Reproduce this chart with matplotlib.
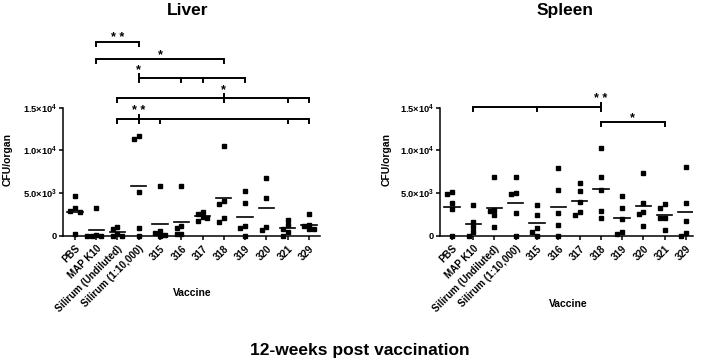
import numpy as np
import matplotlib.pyplot as plt

plt.rcParams['font.family'] = ['Liberation Sans', 'DejaVu Sans']
plt.rcParams['font.weight'] = 'bold'
plt.rcParams['mathtext.fontset'] = 'custom'
plt.rcParams['mathtext.rm'] = 'Liberation Sans:bold'
plt.rcParams['mathtext.it'] = 'Liberation Sans:bold'
plt.rcParams['mathtext.bf'] = 'Liberation Sans:bold'

# data
vaccines = ['PBS', 'MAP K10', 'Silirum (Undiluted)', 'Silirum (1:10,000)',
            '315', '316', '317', '318', '319', '320', '321', '329']

liver = [
    [4600, 2950, 2800, 3300, 200],
    [3300, 0, 0, 0, 50],
    [1000, 800, 200, 0, 0],
    [11700, 11300, 5100, 900, 0],
    [5800, 550, 300, 100, 0],
    [5800, 1130, 940, 200, 200],
    [2750, 2500, 2150, 1760, 2100],
    [10470, 4060, 3710, 1640, 2030],
    [5230, 3830, 1130, 940, 0],
    [6720, 4410, 630, 1050],
    [1870, 1220, 780, 430, 0],
    [2500, 1300, 1100, 750, 750],
]

spleen = [
    [5150, 4880, 3870, 3090, 0],
    [3600, 1640, 1050, 400, 0],
    [6840, 2930, 3010, 2420, 980],
    [6840, 4880, 5030, 2620, 0],
    [3600, 2420, 940, 470, 0],
    [7890, 5310, 2620, 1220, 0],
    [6130, 5200, 3950, 2810, 2390],
    [10230, 6870, 5350, 2930, 2070],
    [4650, 3280, 1920, 200, 400],
    [7300, 3830, 2740, 2580, 1170],
    [3710, 3210, 2110, 2110, 700],
    [8100, 3790, 1760, 300, 0],
]

y_ticks = [0, 5000, 10000, 15000]
y_tick_labels = ['0', '5.0×10$^{3}$', '1.0×10$^{4}$', '1.5×10$^{4}$']

# (groups, star group or None for middle, height, stars)
liver_brackets = [
    ([1, 3], None, 22700, '* *'),
    ([1, 7], None, 20700, '*'),
    ([3, 5, 6, 8], 3, 18500, '*'),
    ([2, 7, 10, 11], 7, 16100, '*'),
    ([2, 3, 4, 10, 11], 3, 13700, '* *'),
]
spleen_brackets = [
    ([1, 4, 7], 7, 15100, '* *'),
    ([7, 10], None, 13300, '*'),
]


def spread(vals, step=0.22, near=520):
    # simple column scatter: points close in value get pushed sideways
    order = np.argsort(vals)[::-1]
    offs = np.zeros(len(vals))
    placed = []
    slots = [0, -1, 1, -2, 2, -3, 3]
    for i in order:
        used = [o for v, o in placed if abs(v - vals[i]) < near]
        for s in slots:
            if s * step not in used:
                offs[i] = s * step
                break
        placed.append((vals[i], offs[i]))
    return offs


def draw_panel(ax, groups, brackets, xlim):
    for i, vals in enumerate(groups):
        vals = np.array(vals, dtype=float)
        offs = spread(vals)
        ax.plot(i + offs, vals, 's', color='black', ms=3.3, clip_on=False, zorder=3)
        m = vals.mean()
        ax.plot([i - 0.36, i + 0.36], [m, m], color='black', lw=1.2, zorder=3)

    for idx, star, y, txt in brackets:
        ax.plot([idx[0], idx[-1]], [y, y], color='black', lw=1.4, clip_on=False,
                solid_capstyle='butt')
        for g in idx:
            top = y + 450 if g == star else y
            ax.plot([g, g], [y - 450, top], color='black', lw=1.4, clip_on=False)
        sx = (idx[0] + idx[-1]) / 2 if star is None else star
        sy = y + 450 if star is not None else y
        ax.annotate(txt, (sx, sy), xytext=(0, 0.8), textcoords='offset points',
                    ha='center', va='baseline', fontsize=9, fontweight='bold',
                    annotation_clip=False)

    ax.set_xlim(*xlim)
    ax.set_ylim(0, 24000)
    ax.spines['top'].set_visible(False)
    ax.spines['right'].set_visible(False)
    ax.spines['left'].set_bounds(0, 15000)
    for s in ['left', 'bottom']:
        ax.spines[s].set_linewidth(1.1)
    ax.set_yticks(y_ticks)
    ax.set_yticklabels(y_tick_labels)
    ax.set_xticks(range(len(vaccines)))
    ax.set_xticklabels(vaccines, rotation=45, ha='right', va='top',
                       rotation_mode='anchor')
    ax.tick_params(axis='both', length=3, width=1.1, pad=1.5)
    ax.tick_params(axis='x', pad=2.5, labelsize=7.1)
    ax.tick_params(axis='y', labelsize=6.7)


fig = plt.figure(figsize=(7.01, 3.62), dpi=100)
H = 362.0
W = 701.0
y0 = 235.7
ytop = y0 - 24000 * 42.7 / 5000

ax1 = fig.add_axes([63 / W, 1 - y0 / H, (320 - 63) / W, (y0 - ytop) / H])
ax2 = fig.add_axes([440 / W, 1 - y0 / H, (693 - 440) / W, (y0 - ytop) / H])

draw_panel(ax1, liver, liver_brackets, (-0.56, 11.52))
draw_panel(ax2, spleen, spleen_brackets, (-0.56, 11.33))

fig.text(187.5 / W, 1 - 10.5 / H, 'Liver', ha='center', va='center',
         fontsize=12.5, fontweight='bold')
fig.text(565 / W, 1 - 10.5 / H, 'Spleen', ha='center', va='center',
         fontsize=12.5, fontweight='bold')
fig.text(8 / W, 1 - 160 / H, 'CFU/organ', rotation=90, ha='center', va='center',
         fontsize=7.5, fontweight='bold')
fig.text(387 / W, 1 - 160 / H, 'CFU/organ', rotation=90, ha='center', va='center',
         fontsize=7.5, fontweight='bold')
fig.text(192 / W, 1 - 293 / H, 'Vaccine', ha='center', va='center',
         fontsize=7.5, fontweight='bold')
fig.text(568 / W, 1 - 304 / H, 'Vaccine', ha='center', va='center',
         fontsize=7.5, fontweight='bold')
fig.text(360 / W, 1 - 351 / H, '12-weeks post vaccination', ha='center', va='center',
         fontsize=12.5, fontweight='bold')

fig.savefig('out.png', dpi=100)
